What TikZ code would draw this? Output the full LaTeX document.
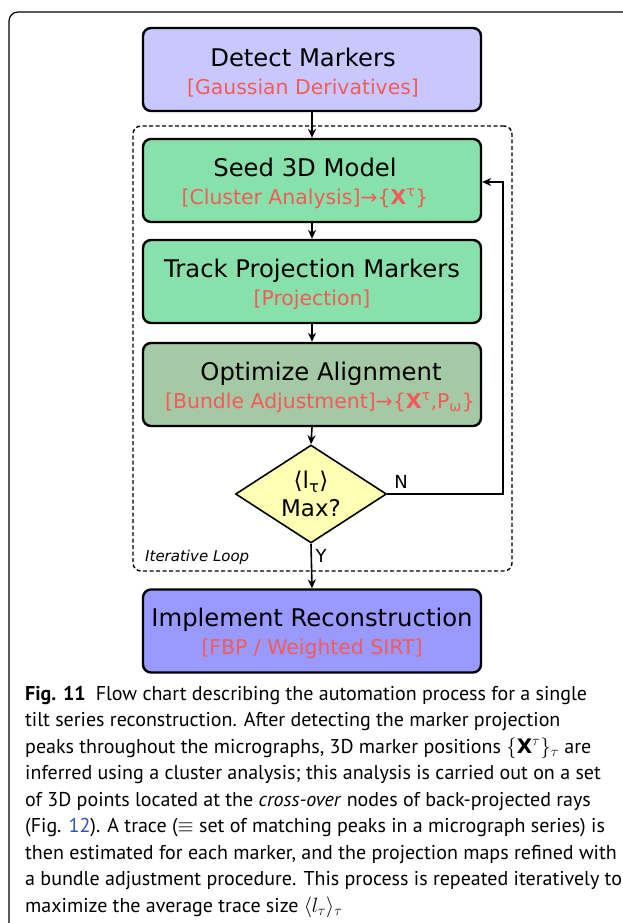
\documentclass[tikz,border=0pt]{standalone}
\usepackage{fontspec}
\setmainfont{DejaVu Sans}
\newfontfamily\capfont{PT Sans}
\usetikzlibrary{arrows.meta,shapes.geometric}
\definecolor{detectfill}{HTML}{C8C8FF}
\definecolor{greenfill}{HTML}{88E0AA}
\definecolor{optfill}{HTML}{A5C8A5}
\definecolor{implfill}{HTML}{9999FF}
\definecolor{decfill}{HTML}{FFFFB3}
\definecolor{subred}{HTML}{F55A5A}
\definecolor{linkblue}{HTML}{2F52C0}
\newcommand\subtxt[1]{{\fontsize{20.4}{28}\selectfont\color{subred}#1}}
\newcommand\ttl[1]{\rule{0pt}{24pt}#1}
\begin{document}
\begin{tikzpicture}[x=1pt,y=-1pt,
  stepbox/.style={draw=black, line width=2.4pt, rounded corners=8pt,
    minimum width=338pt, minimum height=83pt, inner sep=0pt, align=center,
    font=\fontsize{24.3}{28}\selectfont},
  arr/.style={-{Stealth[length=9pt,width=8pt]}, line width=1.6pt},
  capline/.style={anchor=base west, inner sep=0pt, font=\capfont\fontsize{20}{22}\selectfont},
  lbl/.style={inner sep=0pt, font=\fontsize{18}{20}\selectfont}]
\useasboundingbox (0,0) rectangle (623,923);
\clip (0,0) rectangle (623,923);
\fill[white] (0,0) rectangle (623,923);
% outer frame
\draw[line width=1.2pt, rounded corners=9pt] (9,960) -- (9,12) -- (660,12);
% iterative loop box
\node[draw, line width=1.4pt, rounded corners=8pt, dash pattern=on 4pt off 2.5pt,
  minimum width=379pt, minimum height=445pt, inner sep=0pt] (loop) at (322.5,348.5) {};
\node[lbl, anchor=west, font=\itshape\fontsize{15}{18}\selectfont] (looplbl) at (145,557) {Iterative Loop};
% boxes
\node[stepbox, fill=detectfill] (detect) at (312,69.5)
  {\ttl{Detect Markers}\hspace*{18pt}\\\subtxt{[Gaussian Derivatives]}\hspace*{18pt}};
\node[stepbox, fill=greenfill] (seed) at (312,180.5)
  {\ttl{Seed 3D Model}\hspace*{14pt}\\\subtxt{[Cluster Analysis]→\{\textbf{X}\textsuperscript{τ}\}}\hspace*{14pt}};
\node[stepbox, fill=greenfill] (track) at (312,281.5)
  {\ttl{Track Projection Markers}\\\subtxt{[Projection]}};
\node[stepbox, fill=optfill] (opt) at (312,384.5)
  {\hspace*{18pt}\ttl{Optimize Alignment}\\\hspace*{16pt}\subtxt{[Bundle Adjustment]→\{\textbf{X}\textsuperscript{τ},P\textsubscript{ω}\}}};
\node[draw, shape=diamond, fill=decfill, line width=1.6pt, inner sep=0pt,
  minimum width=151pt, minimum height=98pt] (dec) at (311,494) {};
\node[inner sep=0pt, align=center, font=\fontsize{23}{28}\selectfont] (dectxt) at (311,494)
  {⟨l\textsubscript{τ}⟩\\Max?};
\node[stepbox, fill=implfill] (impl) at (312,631)
  {\ttl{Implement Reconstruction}\\\subtxt{[FBP / Weighted SIRT]}};
% connectors
\coordinate (loopturn) at (503,182);
\draw[arr] (detect) -- (seed);
\draw[arr] (seed) -- (track);
\draw[arr] (track) -- (opt);
\draw[arr] (opt.south) -- (dec.north);
\draw[arr] (dec.south) -- (impl.north);
\draw[arr] (dec.east) -| (loopturn) -- (seed.east |- loopturn);
\node[lbl] (nlbl) at (401,482) {N};
\node[lbl] (ylbl) at (321,556) {Y};
% caption
\node[capline] (c1) at (25,700) {\textbf{Fig. 11}\enspace Flow chart describing the automation process for a single};
\node[capline] (c2) at (25,726.5) {tilt series reconstruction. After detecting the marker projection};
\node[capline] (c3) at (25,753) {peaks throughout the micrographs, 3D marker positions $\{\mathbf{X}^{\tau}\}_{\tau}$ are};
\node[capline] (c4) at (25,779.5) {inferred using a cluster analysis; this analysis is carried out on a set};
\node[capline] (c5) at (25,806) {of 3D points located at the \textit{cross-over} nodes of back-projected rays};
\node[capline] (c6) at (25,832.5) {(Fig. {\color{linkblue}12}). A trace ($\equiv$ set of matching peaks in a micrograph series) is};
\node[capline] (c7) at (25,859) {then estimated for each marker, and the projection maps refined with};
\node[capline] (c8) at (25,885.5) {a bundle adjustment procedure. This process is repeated iteratively to};
\node[capline] (c9) at (25,912) {maximize the average trace size $\langle l_{\tau}\rangle_{\tau}$};
\end{tikzpicture}
\end{document}
